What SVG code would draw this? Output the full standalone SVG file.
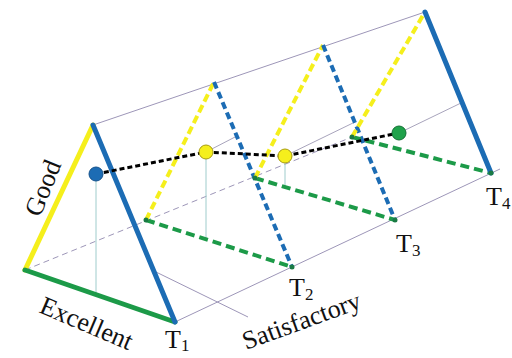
<svg xmlns="http://www.w3.org/2000/svg" width="512" height="358" viewBox="0 0 512 358">
<style>
.thin{stroke:#9d96b8;stroke-width:1;fill:none}
.hid{stroke:#9d96b8;stroke-width:1;fill:none;stroke-dasharray:6,4}
.drop{stroke:#9fcccc;stroke-width:1;fill:none}
.proj{stroke:#a8a4bc;stroke-width:1;fill:none}
.sy{stroke:#f5ef1c;stroke-width:5;fill:none;stroke-linecap:round}
.sb{stroke:#1c6cb4;stroke-width:5;fill:none;stroke-linecap:round}
.sg{stroke:#1c9a48;stroke-width:5;fill:none;stroke-linecap:round}
.dy{stroke:#f5ef1c;stroke-width:4;fill:none;stroke-dasharray:8,4}
.db{stroke:#1c6cb4;stroke-width:4;fill:none;stroke-dasharray:7,4}
.dg{stroke:#1c9a48;stroke-width:4;fill:none;stroke-dasharray:9,5}
.path{stroke:#000;stroke-width:3;fill:none;stroke-dasharray:5,3}
.vx{fill:#1a7a44}
.lbl{font-family:"Liberation Serif","Times New Roman",serif;font-size:26px;fill:#111}
.sub{font-family:"Liberation Serif","Times New Roman",serif;font-size:17px;fill:#111}
</style>
<rect width="512" height="358" fill="#fff"/>
<g id="connectors">
  <line class="thin" x1="93" y1="125" x2="425" y2="12"/>
  <line class="thin" x1="175" y1="322" x2="500" y2="169"/>
  <line class="hid" x1="25" y1="270" x2="352" y2="137"/>
  <line class="thin" x1="156" y1="272" x2="248" y2="317"/>
  <line class="drop" x1="96" y1="174" x2="96" y2="293"/>
  <line class="drop" x1="206" y1="152" x2="206" y2="239"/>
  <line class="drop" x1="285" y1="156" x2="285" y2="187"/>
  <line class="proj" x1="206" y1="152" x2="237" y2="136"/>
  <line class="proj" x1="285" y1="156" x2="355" y2="122"/>
  <line class="proj" x1="399" y1="133" x2="461" y2="103"/>
</g>
<g id="T1">
  <line class="sy" x1="25" y1="270" x2="93" y2="125"/>
  <line class="sg" x1="25" y1="270" x2="175" y2="322"/>
  <line class="sb" x1="93" y1="125" x2="175" y2="322"/>
</g>
<g id="T2">
  <line class="dg" x1="146" y1="220" x2="292" y2="267"/>
  <line class="dy" x1="146" y1="220" x2="214" y2="82"/>
  <line class="db" x1="214" y1="82" x2="292" y2="267"/>
  <circle class="vx" cx="146" cy="220" r="2.5"/>
  <circle class="vx" cx="292" cy="267" r="2.5"/>
</g>
<g id="T3">
  <line class="dg" x1="255" y1="178" x2="395" y2="220"/>
  <line class="dy" x1="255" y1="178" x2="323" y2="45"/>
  <line class="db" x1="323" y1="45" x2="395" y2="220"/>
  <circle class="vx" cx="255" cy="178" r="2.5"/>
  <circle class="vx" cx="395" cy="220" r="2.5"/>
</g>
<g id="T4">
  <line class="dg" x1="352" y1="137" x2="491" y2="173"/>
  <line class="dy" x1="352" y1="137" x2="425" y2="12"/>
  <line class="sb" x1="425" y1="12" x2="491" y2="173"/>
  <circle class="vx" cx="352" cy="137" r="2.5"/>
  <circle class="vx" cx="491" cy="173" r="2.5"/>
</g>
<g id="trajectory">
  <polyline class="path" points="96,174 206,152 285,156 399,133"/>
</g>
<g id="points">
  <circle id="p1" cx="96" cy="174" r="7" fill="#1c6cb4" stroke="#14528c" stroke-width="1"/>
  <circle id="p2" cx="206" cy="152" r="7" fill="#f5ef1c" stroke="#a89c10" stroke-width="1"/>
  <circle id="p3" cx="285" cy="156" r="7" fill="#f5ef1c" stroke="#a89c10" stroke-width="1"/>
  <circle id="p4" cx="399" cy="133" r="7" fill="#1fa24a" stroke="#137034" stroke-width="1"/>
</g>
<g id="labels">
  <text class="lbl" transform="translate(40,218) rotate(-68)">Good</text>
  <text class="lbl" transform="translate(38,312) rotate(23)">Excellent</text>
  <text class="lbl" transform="translate(246,350) rotate(-20)">Satisfactory</text>
  <text class="lbl" x="165" y="348">T<tspan class="sub" dy="3">1</tspan></text>
  <text class="lbl" x="289" y="296">T<tspan class="sub" dy="4">2</tspan></text>
  <text class="lbl" x="396" y="252">T<tspan class="sub" dy="4">3</tspan></text>
  <text class="lbl" x="486" y="205">T<tspan class="sub" dy="4">4</tspan></text>
</g>
</svg>
